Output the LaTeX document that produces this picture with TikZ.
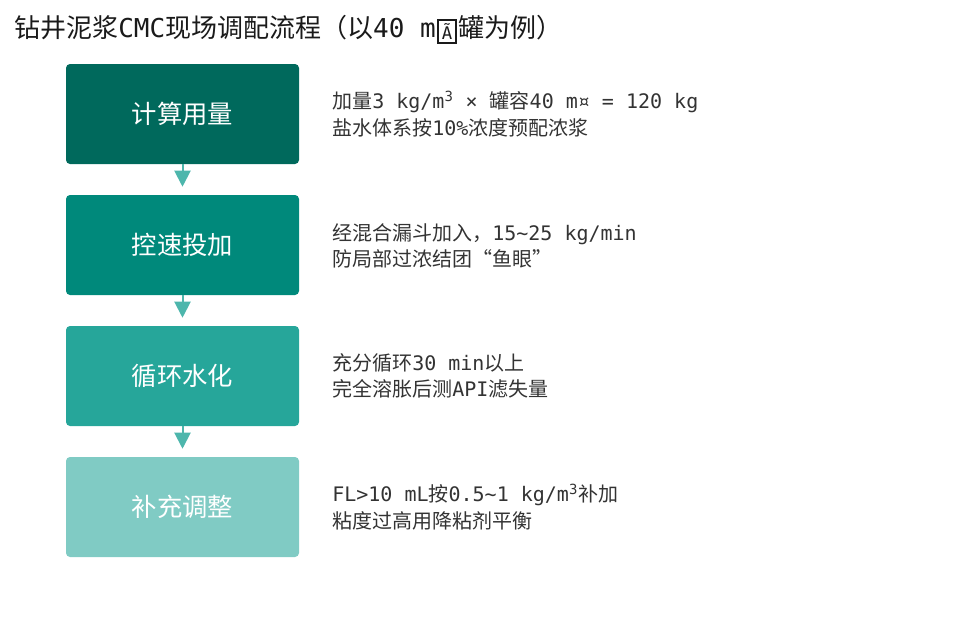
\documentclass[tikz,border=0pt]{standalone}
\usepackage{fontspec}
\setmainfont{Noto Sans CJK SC}
\newfontfamily\latmono{DejaVu Sans Mono}
\newcommand{\lt}[1]{{\latmono #1}}
\usetikzlibrary{arrows.meta}
\definecolor{c1}{HTML}{00695C}
\definecolor{c2}{HTML}{00897B}
\definecolor{c3}{HTML}{26A69A}
\definecolor{c4}{HTML}{80CBC4}
\definecolor{carrow}{HTML}{4DB6AC}
\definecolor{ctext}{HTML}{333333}
\definecolor{ctitle}{HTML}{1A1A1A}
\tikzset{
  stepbox/.style={rectangle, rounded corners=3pt, minimum width=174.75pt, minimum height=75pt, inner sep=0pt, text=white, font=\fontsize{19}{22}\selectfont},
  sidetext/.style={anchor=west, align=left, inner sep=0pt, text=ctext, font=\fontsize{15}{20}\selectfont},
  flowarrow/.style={draw=carrow, line width=1.5pt, -{Triangle[length=12pt,width=12pt]}, shorten >=6pt, fill=carrow}
}
\begin{document}
\begin{tikzpicture}[x=0.75pt,y=-0.75pt]
\useasboundingbox (0,0) rectangle (960,639);
\node[anchor=west, inner sep=0pt, text=ctitle, font=\fontsize{19.5}{22}\selectfont] (title) at (14,30) {钻井泥浆\lt{CMC}现场调配流程（以\lt{40 m}\hspace{1pt}\raisebox{-1.5pt}{\fboxsep=2pt\fboxrule=1.5pt\fbox{\latmono\fontsize{13}{14}\selectfont Ã}}\hspace{1pt}罐为例）};
\node[stepbox, fill=c1] (b1) at (182.5,114) {计算用量};
\node[stepbox, fill=c2] (b2) at (182.5,245) {控速投加};
\node[stepbox, fill=c3] (b3) at (182.5,376) {循环水化};
\node[stepbox, fill=c4] (b4) at (182.5,507) {补充调整};
\draw[flowarrow] (b1.south) -- (b2.north);
\draw[flowarrow] (b2.south) -- (b3.north);
\draw[flowarrow] (b3.south) -- (b4.north);
\node[sidetext] (t1) at (332,114) {加量\lt{3 kg/m\textsuperscript{3} × }罐容\lt{40 m¤ = 120 kg}\\盐水体系按\lt{10\%}浓度预配浓浆};
\node[sidetext] (t2) at (332,246) {经混合漏斗加入，\lt{15\textasciitilde 25 kg/min}\\防局部过浓结团“鱼眼”};
\node[sidetext] (t3) at (332,376) {充分循环\lt{30 min}以上\\完全溶胀后测\lt{API}滤失量};
\node[sidetext] (t4) at (332,507) {\lt{FL>10 mL}按\lt{0.5\textasciitilde 1 kg/m\textsuperscript{3}}补加\\粘度过高用降粘剂平衡};
\end{tikzpicture}
\end{document}
